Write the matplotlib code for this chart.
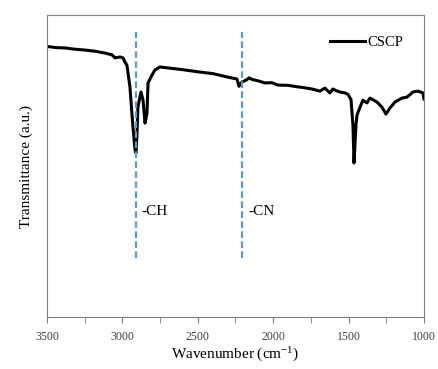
import matplotlib
matplotlib.use("Agg")
import matplotlib.pyplot as plt
from matplotlib.ticker import MultipleLocator

plt.rcParams["font.family"] = ["Liberation Serif", "DejaVu Serif"]

# FTIR spectrum of CSCP (wavenumber in cm-1, transmittance in a.u.)
wavenumber = [3500, 3440, 3381, 3320, 3248, 3180, 3115, 3069, 3049, 3016,
              2996, 2983, 2970, 2950, 2930, 2916, 2910, 2903, 2897, 2877,
              2863, 2850, 2837, 2830, 2804, 2784, 2751, 2684, 2600, 2485,
              2400, 2306, 2240, 2227, 2207, 2174, 2160, 2141, 2100, 2054,
              2010, 1968, 1900, 1836, 1790, 1743, 1690, 1657, 1624, 1604,
              1580, 1557, 1524, 1504, 1484, 1471, 1464, 1451, 1444, 1424,
              1405, 1378, 1358, 1312, 1279, 1252, 1226, 1192, 1146, 1113,
              1073, 1040, 1007, 1000]
transmittance = [89.6, 89.2, 89.1, 88.7, 88.4, 88.0, 87.4, 86.8, 85.8, 86.1,
                 85.8, 84.4, 83.4, 76.2, 62.9, 55.3, 54.3, 60.9, 69.5, 74.5,
                 71.8, 64.2, 67.5, 77.5, 80.1, 81.8, 82.8, 82.4, 81.9, 81.1,
                 80.6, 79.5, 78.8, 76.4, 77.8, 78.6, 79.2, 78.7, 78.2, 77.5,
                 77.6, 76.8, 76.7, 76.2, 75.9, 75.5, 74.8, 75.8, 74.2, 75.5,
                 74.9, 74.5, 74.2, 73.7, 72.0, 63.6, 51.0, 63.6, 66.9, 69.5,
                 71.8, 70.9, 72.5, 71.2, 69.5, 67.2, 69.2, 71.2, 72.5, 72.8,
                 74.5, 74.8, 74.2, 72.2]

# band assignments
band_pos = [2910, 2210]
band_labels = ["-CH", "-CN"]
band_label_x = [2877, 2167]

fig = plt.figure(figsize=(4.38, 3.69), dpi=100)
ax = fig.add_axes([0.1073, 0.1409, 0.8607, 0.8184])

ax.plot(wavenumber, transmittance, color="black", lw=2.2, label="CSCP")

for pos, lab, lx in zip(band_pos, band_labels, band_label_x):
    ax.plot([pos, pos], [19.5, 94.4], color="#5b9bd5", lw=1.6,
            dashes=(3, 1.5))
    ax.text(lx, 35.1, lab, fontsize=11, va="center", ha="left")

ax.set_xlim(3500, 1000)
ax.set_ylim(0, 100)
ax.xaxis.set_major_locator(MultipleLocator(500))
ax.xaxis.set_minor_locator(MultipleLocator(250))
ax.tick_params(axis="x", which="both", direction="out", length=4, pad=6,
               color="#808080", labelsize=8.5, labelcolor="#404040")
ax.set_yticks([])
for sp in ax.spines.values():
    sp.set_color("#808080")
    sp.set_linewidth(0.8)

ax.set_xlabel(r"Wavenumber (cm$\mathregular{^{-1}}$)", fontsize=11, labelpad=2)
ax.set_ylabel("Transmittance (a.u.)", fontsize=11, labelpad=10)

ax.legend(loc="upper right", frameon=False, fontsize=10.5,
          handlelength=2.4, handletextpad=0.2, borderaxespad=1.0)

fig.savefig("out.png", dpi=100)
